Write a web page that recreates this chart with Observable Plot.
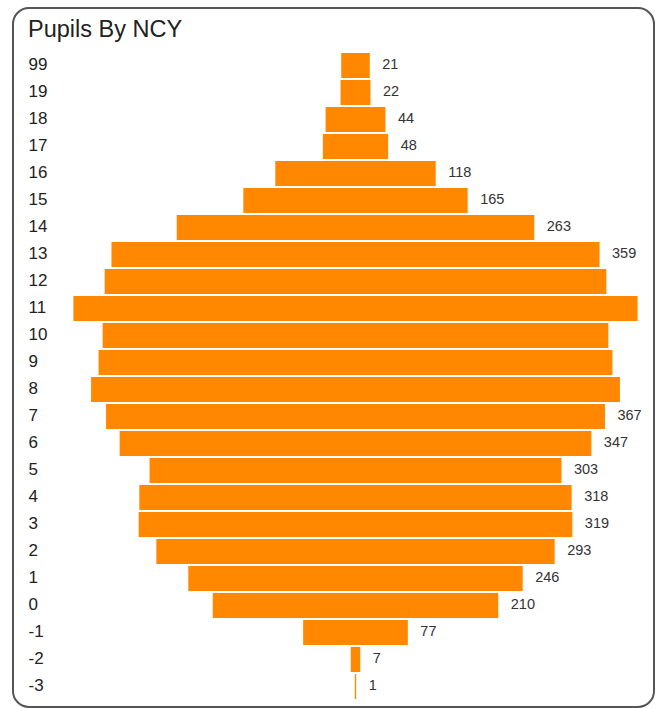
<!DOCTYPE html>
<html><head><meta charset="utf-8">
<script src="https://cdn.jsdelivr.net/npm/d3@7"></script>
<script src="https://cdn.jsdelivr.net/npm/@observablehq/plot@0.6"></script>
<style>
body{margin:0;background:#fff;font-family:"Liberation Sans",Arial,sans-serif;}
#wrap{position:relative;width:659px;height:708px;overflow:hidden;}
#frame{position:absolute;left:12px;top:6.5px;width:643px;height:701.5px;border:2px solid #555;border-radius:17px;box-sizing:border-box;}
#title{position:absolute;left:28px;top:18px;font-size:23.5px;line-height:1;color:#222;white-space:nowrap;}
#chart{position:absolute;left:0;top:0;}
</style>
</head><body>
<div id="wrap"><div id="frame"></div><div id="chart"></div><div id="title">Pupils By NCY</div></div>
<script>
const ncy = ["99","19","18","17","16","15","14","13","12","11","10","9","8","7","6","5","4","3","2","1","0","-1","-2","-3"];
const pupils = [21,22,44,48,118,165,263,359,369,415,372,378,389,367,347,303,318,319,293,246,210,77,7,1];

const data = ncy.map((c, i) => ({ncy: c, value: pupils[i]}));

const plot = Plot.plot({
  width: 659,
  height: 708,
  marginTop: 50.3,
  marginBottom: 6.8,
  marginLeft: 83.6,
  marginRight: 31.6,
  style: {fontFamily: "'Liberation Sans', Arial, sans-serif", background: "transparent"},
  x: {domain: [-200, 200], axis: null},
  y: {domain: ncy, padding: 0.09, axis: null},
  marks: [
    Plot.barX(data, {x1: d => -d.value / 2, x2: d => d.value / 2, y: "ncy", fill: "#ff8800"}),
    Plot.text(data, {y: "ncy", text: "ncy", frameAnchor: "left", dx: 28 - 83.6, dy: -1.5, textAnchor: "start", fontSize: 17, fill: "#222"}),
    Plot.text(data.filter(d => d.value <= 367), {x: d => d.value / 2, y: "ncy", text: d => String(d.value), dx: 12, dy: -1.5, textAnchor: "start", fontSize: 14.5, fill: "#333"})
  ]
});
document.getElementById("chart").appendChild(plot);
</script>
</body></html>
